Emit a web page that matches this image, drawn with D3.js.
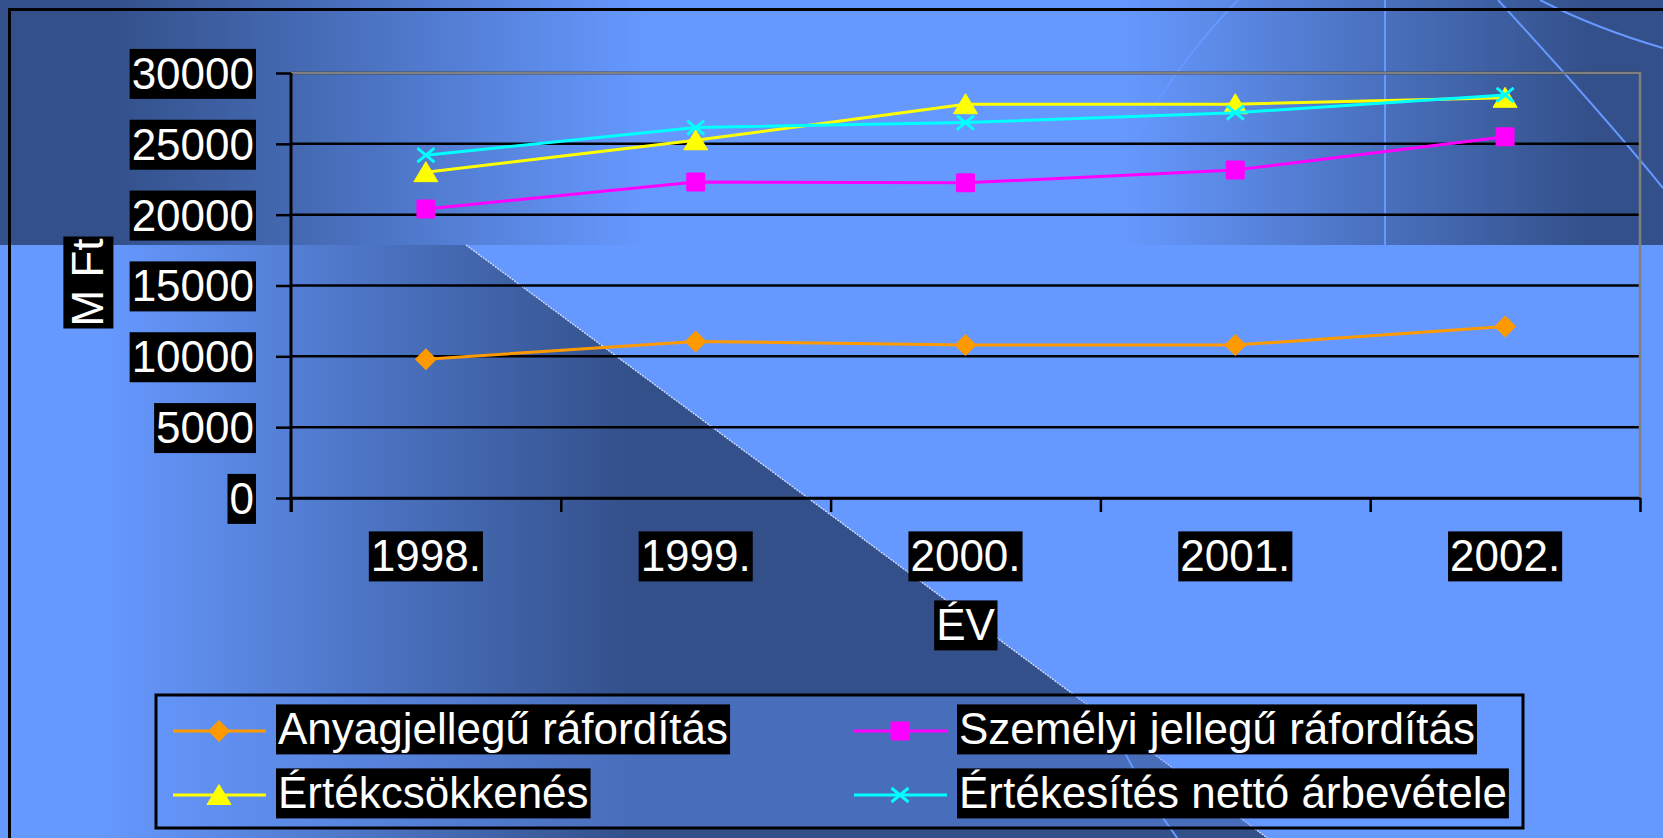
<!DOCTYPE html>
<html><head><meta charset="utf-8">
<script src="https://cdn.jsdelivr.net/npm/d3@7"></script>
<style>html,body{margin:0;padding:0;overflow:hidden;background:#6699ff} svg{display:block}</style>
</head><body>
<svg id="chart" width="1663" height="838"></svg>
<script>
// ---- data ----
const categories = ["1998.", "1999.", "2000.", "2001.", "2002."];
const anyagjellegu = [9800, 11050, 10800, 10800, 12100];
const szemelyi = [20400, 22300, 22250, 23150, 25500];
const ertekcsokkenes = [23000, 25250, 27800, 27800, 28250];
const ertekesites = [24200, 26150, 26500, 27200, 28450];
const yTicks = [0, 5000, 10000, 15000, 20000, 25000, 30000];
const seriesNames = ["Anyagjellegű ráfordítás", "Személyi jellegű ráfordítás", "Értékcsökkenés", "Értékesítés nettó árbevétele"];
const yTitle = "M Ft";
const xTitle = "ÉV";

// ---- styling ----
const seriesValues = [anyagjellegu, szemelyi, ertekcsokkenes, ertekesites];
const seriesColors = ["#ff9900", "#ff00ff", "#ffff00", "#00ffff"];
const seriesMarkers = ["diamond", "square", "triangle", "x"];
const LIGHT = "#6699ff", DARK = "#33508a";
const FONT = "'Liberation Sans', Arial, sans-serif";
const FS = 44;

const W = 1663, H = 838;
const plot = {left: 291, right: 1640, top: 73, bottom: 498};
const svg = d3.select("#chart");
const defs = svg.append("defs");

// ---- background ----
const bandG = defs.append("linearGradient").attr("id", "bandG")
  .attr("gradientUnits", "userSpaceOnUse").attr("x1", 0).attr("x2", W).attr("y1", 0).attr("y2", 0);
[[0, DARK], [110 / W, DARK], [650 / W, LIGHT], [1120 / W, LIGHT], [1590 / W, DARK], [1, DARK]]
  .forEach(([o, c]) => bandG.append("stop").attr("offset", o).attr("stop-color", c));
const triG = defs.append("linearGradient").attr("id", "triG")
  .attr("gradientUnits", "userSpaceOnUse").attr("x1", 0).attr("x2", W).attr("y1", 0).attr("y2", 0);
[[0, LIGHT], [100 / W, LIGHT], [630 / W, DARK], [1, DARK]]
  .forEach(([o, c]) => triG.append("stop").attr("offset", o).attr("stop-color", c));

svg.append("rect").attr("width", W).attr("height", H).attr("fill", LIGHT);
const bandH = 245;
const diag0 = [466, bandH], slope = 0.74;
const diagEndX = diag0[0] + (H - diag0[1]) / slope;
svg.append("path")
  .attr("d", `M0,${bandH}L${diag0[0]},${bandH}L${diagEndX},${H}L0,${H}Z`)
  .attr("fill", "url(#triG)");
svg.append("rect").attr("width", W).attr("height", bandH).attr("fill", "url(#bandG)");
svg.append("line").attr("x1", diag0[0]).attr("y1", diag0[1]).attr("x2", diagEndX).attr("y2", H)
  .attr("stroke", "#d6e2ff").attr("stroke-width", 1.3).attr("stroke-dasharray", "2 1");

// decorative lines
const deco = svg.append("g").attr("fill", "none").attr("stroke", LIGHT).attr("stroke-width", 2);
deco.append("circle").attr("cx", 1705).attr("cy", 455).attr("r", 652);
deco.append("path").attr("d", "M1498,0Q1609,121 1663,188");
deco.append("path").attr("d", "M1540,0Q1595,28 1663,48");
deco.append("line").attr("x1", 1385).attr("x2", 1385).attr("y1", 0).attr("y2", bandH);

// outer frame
svg.append("rect").attr("x", 9.5).attr("y", 9.5).attr("width", 3000).attr("height", 3000)
  .attr("fill", "none").attr("stroke", "#000").attr("stroke-width", 3);

// ---- scales ----
const y = d3.scaleLinear().domain([0, 30000]).range([plot.bottom, plot.top]);
const xi = d3.scaleLinear().domain([0, categories.length]).range([plot.left, plot.right]);
const xc = i => xi(i + 0.5);

function boxText(sel) {
  sel.each(function () {
    const b = this.getBBox();
    d3.select(this.parentNode).insert("rect", () => this)
      .attr("x", b.x - 2).attr("y", b.y).attr("width", b.width + 4).attr("height", b.height + 1)
      .attr("fill", "#000");
  });
}

// gridlines
svg.append("g").selectAll("line").data(yTicks).join("line")
  .attr("x1", plot.left).attr("x2", plot.right)
  .attr("y1", d => y(d)).attr("y2", d => y(d))
  .attr("stroke", "#000").attr("stroke-width", 2.5);

// plot border (gray)
svg.append("path")
  .attr("d", `M${plot.left},${plot.top}H${plot.right}V${plot.bottom}`)
  .attr("fill", "none").attr("stroke", "#808080").attr("stroke-width", 2.5);

// y axis
const yAxis = svg.append("g").attr("transform", `translate(${plot.left},0)`)
  .call(d3.axisLeft(y).tickValues(yTicks).tickFormat(d3.format("d")).tickSize(15).tickPadding(22));
yAxis.select(".domain").remove();
yAxis.selectAll(".tick line").attr("stroke", "#000").attr("stroke-width", 2.5);
yAxis.selectAll(".tick text").attr("fill", "#fff").style("font-family", FONT).style("font-size", FS + "px")
  .attr("dy", "0.35em");
yAxis.selectAll(".tick text").call(boxText);

// x axis
const xAxis = svg.append("g").attr("transform", `translate(0,${plot.bottom})`)
  .call(d3.axisBottom(xi).tickValues(d3.range(categories.length + 1)).tickFormat("").tickSize(14).tickSizeOuter(0));
xAxis.select(".domain").attr("stroke", "#000").attr("stroke-width", 2.5);
xAxis.selectAll(".tick line").attr("stroke", "#000").attr("stroke-width", 2.5);
svg.append("line").attr("x1", plot.left).attr("x2", plot.left).attr("y1", plot.top).attr("y2", plot.bottom + 14)
  .attr("stroke", "#000").attr("stroke-width", 3);

const xLab = svg.append("g").selectAll("text").data(categories).join("text")
  .attr("x", (d, i) => xc(i)).attr("y", 556).attr("dy", "0.35em").attr("text-anchor", "middle")
  .attr("fill", "#fff").style("font-family", FONT).style("font-size", FS + "px").text(d => d);
xLab.call(boxText);

// axis titles
const xt = svg.append("g").append("text").attr("x", (plot.left + plot.right) / 2).attr("y", 625).attr("dy", "0.35em")
  .attr("text-anchor", "middle").attr("fill", "#fff").style("font-family", FONT).style("font-size", FS + "px").text(xTitle);
xt.call(boxText);
const yt = svg.append("g").attr("transform", `translate(88,${(plot.top + plot.bottom) / 2 - 3}) rotate(-90)`)
  .append("text").attr("x", 0).attr("y", 0).attr("dy", "0.35em")
  .attr("text-anchor", "middle").attr("fill", "#fff").style("font-family", FONT).style("font-size", FS + "px").text(yTitle);
yt.call(boxText);

// ---- markers ----
function drawMarker(g, type, color) {
  if (type === "diamond") g.append("path").attr("d", "M0,-11L11,0L0,11L-11,0Z").attr("fill", color);
  else if (type === "square") g.append("rect").attr("x", -9.5).attr("y", -9.5).attr("width", 19).attr("height", 19).attr("rx", 1.5).attr("fill", color);
  else if (type === "triangle") g.append("path").attr("d", "M0,-10.5L12,9.5L-12,9.5Z").attr("fill", color)
    .attr("stroke", color).attr("stroke-width", 1).attr("stroke-linejoin", "round");
  else g.append("path").attr("d", "M-8.5,-7L8.5,7M-8.5,7L8.5,-7").attr("stroke", color).attr("stroke-width", 3).attr("fill", "none");
}

// ---- series ----
const line = d3.line().x((d, i) => xc(i)).y(d => y(d));
seriesValues.forEach((vals, s) => {
  const g = svg.append("g");
  g.append("path").attr("d", line(vals)).attr("fill", "none").attr("stroke", seriesColors[s]).attr("stroke-width", 3);
  vals.forEach((v, i) => {
    const m = g.append("g").attr("transform", `translate(${xc(i)},${y(v)})`);
    drawMarker(m, seriesMarkers[s], seriesColors[s]);
  });
});

// ---- legend ----
const lg = {x: 156, y: 695, w: 1367, h: 133};
svg.append("rect").attr("x", lg.x).attr("y", lg.y).attr("width", lg.w).attr("height", lg.h)
  .attr("fill", LIGHT).attr("fill-opacity", 0.42).attr("stroke", "#000").attr("stroke-width", 3);
const colX = [173, 854], rowY = [731, 795];
seriesNames.forEach((name, s) => {
  const cx = colX[s % 2], cy = rowY[Math.floor(s / 2)];
  const g = svg.append("g").attr("transform", `translate(${cx},${cy})`);
  g.append("line").attr("x1", 0).attr("x2", 93).attr("y1", 0).attr("y2", 0)
    .attr("stroke", seriesColors[s]).attr("stroke-width", 3);
  const m = g.append("g").attr("transform", "translate(46,0)");
  drawMarker(m, seriesMarkers[s], seriesColors[s]);
  const t = g.append("text").attr("x", 105).attr("y", -2).attr("dy", "0.35em")
    .attr("fill", "#fff").style("font-family", FONT).style("font-size", FS + "px").text(name);
  t.call(boxText);
});
</script>
</body></html>
